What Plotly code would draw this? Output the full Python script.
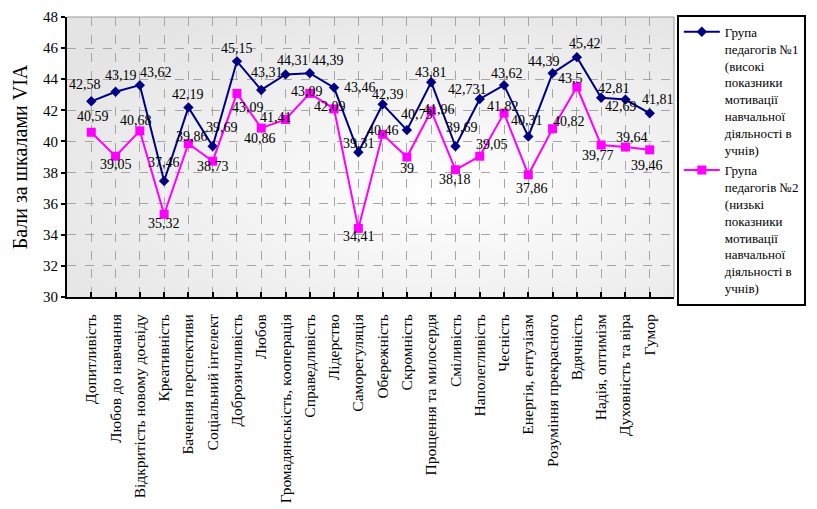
import base64
import plotly.graph_objects as go

# VIA character strengths (categories along the x axis)
categories = [
    "Допитливість", "Любов до навчання", "Відкритість новому досвіду", "Креативність",
    "Бачення перспективи", "Соціальний інтелект", "Доброзичливість", "Любов",
    "Громадянськість, кооперація", "Справедливість", "Лідерство", "Саморегуляція",
    "Обережність", "Скромність", "Прощення та милосердя", "Сміливість",
    "Наполегливість", "Чесність", "Енергія, ентузіазм", "Розуміння прекрасного",
    "Вдячність", "Надія, оптимізм", "Духовність та віра", "Гумор",
]

# Group 1: high student motivation
group1 = [42.58, 43.19, 43.62, 37.46, 42.19, 39.69, 45.15, 43.31, 44.31, 44.39, 43.46, 39.31,
          42.39, 40.73, 43.81, 39.69, 42.731, 43.62, 40.31, 44.39, 45.42, 42.81, 42.69, 41.81]
# Group 2: low student motivation
group2 = [40.59, 39.05, 40.68, 35.32, 39.86, 38.73, 43.09, 40.86, 41.41, 43.09, 42.09, 34.41,
          40.46, 39, 41.96, 38.18, 39.05, 41.82, 37.86, 40.82, 43.5, 39.77, 39.64, 39.46]

y_ticks = [30, 32, 34, 36, 38, 40, 42, 44, 46, 48]

name1 = "Група<br>педагогів №1<br>(високі<br>показники<br>мотивації<br>навчальної<br>діяльності в<br>учнів)"
name2 = "Група<br>педагогів №2<br>(низькі<br>показники<br>мотивації<br>навчальної<br>діяльності в<br>учнів)"

# value-label offsets from each marker, in pixels (dx right, dy down)
shift1 = [(-6, -17), (5, -16), (16, -13), (0, -18), (0, -13), (9, -19), (0, -13), (6, -17),
          (7, -14), (18, -13), (26, 0), (1, -9), (5, -10), (10, -16), (0, -10), (7, -19),
          (-12, -9), (3, -12), (-1, -16), (-9, -12), (8, -14), (13, -9), (-4, 7), (8, -14)]
shift2 = [(2, -16), (0, 8), (-4, -10), (0, 9), (4, -7), (0, 5), (11, 14), (-1, 10),
          (-10, -2), (-3, -2), (-4, -2), (1, 8), (0, -4), (0, 11), (8, -1), (0, 10),
          (12, -12), (-1, -7), (4, 14), (16, -7), (-6, -9), (-3, 10), (7, -10), (-3, 16)]


def fmt(v):
    return f"{v:g}".replace(".", ",")


FONT = "Liberation Serif"

fig = go.Figure()
fig.add_trace(go.Scatter(
    x=categories, y=group1, name=name1, mode="lines+markers",
    line=dict(color="#000080", width=2),
    marker=dict(symbol="diamond", size=8, color="#000080"),
))
fig.add_trace(go.Scatter(
    x=categories, y=group2, name=name2, mode="lines+markers",
    line=dict(color="#ff00ff", width=2),
    marker=dict(symbol="square", size=9, color="#ff00ff"),
))

# value labels next to the markers
annotations = []
for values, shifts in ((group1, shift1), (group2, shift2)):
    for cat, v, (dx, dy) in zip(categories, values, shifts):
        annotations.append(dict(
            x=cat, y=v, xref="x", yref="y", text=fmt(v), showarrow=False,
            xshift=dx, yshift=-dy, xanchor="center", yanchor="middle",
            font=dict(family=FONT, size=14, color="black"),
        ))

# soft radial shading behind the plot area
svg = (
    '<svg xmlns="http://www.w3.org/2000/svg" width="600" height="280" preserveAspectRatio="none">'
    '<defs><radialGradient id="g" cx="0.62" cy="0.62" r="0.75">'
    '<stop offset="0" stop-color="#ffffff"/><stop offset="1" stop-color="#e4e4e4"/>'
    '</radialGradient></defs><rect width="600" height="280" fill="url(#g)"/></svg>'
)
src = "data:image/svg+xml;base64," + base64.b64encode(svg.encode()).decode()

fig.update_layout(
    width=817, height=509,
    margin=dict(l=67, r=142, t=17, b=212),
    paper_bgcolor="white", plot_bgcolor="rgba(0,0,0,0)",
    font=dict(family=FONT, color="black", size=15),
    showlegend=True,
    legend=dict(
        x=1.003, y=1.008, xanchor="left", yanchor="top",
        bordercolor="black", borderwidth=2, bgcolor="white",
        font=dict(family=FONT, size=13, color="black"),
        valign="top", tracegroupgap=0, itemwidth=36, maxheight=320,
    ),
    annotations=annotations,
    images=[dict(source=src, xref="paper", yref="paper", x=0, y=1, sizex=1, sizey=1,
                 sizing="stretch", layer="below", xanchor="left", yanchor="top")],
    shapes=[
        dict(type="line", xref="paper", yref="paper", x0=0, x1=1, y0=1, y1=1,
             line=dict(color="#9a9a9a", width=1)),
        dict(type="line", xref="paper", yref="paper", x0=1, x1=1, y0=0, y1=1,
             line=dict(color="#9a9a9a", width=1)),
    ],
)

fig.update_xaxes(
    type="category", range=[-1, 24], tickangle=-90, automargin=False,
    showline=True, linecolor="black", linewidth=2,
    ticks="inside", ticklen=5, tickcolor="black", tickwidth=2,
    showgrid=True, gridcolor="#a6a6a6", griddash="dash", gridwidth=1,
    tickfont=dict(family=FONT, size=15.5, color="black"), ticklabelstandoff=9,
)
fig.update_yaxes(
    range=[30, 48], tickvals=y_ticks, ticktext=[str(t) for t in y_ticks],
    showline=True, linecolor="black", linewidth=2, automargin=False,
    ticks="outside", ticklen=4, tickcolor="black", tickwidth=2,
    showgrid=True, gridcolor="#a6a6a6", griddash="dash", gridwidth=1, zeroline=False,
    tickfont=dict(family=FONT, size=15, color="black"),
    title=dict(text="Бали за шкалами VIA", font=dict(family=FONT, size=20, color="black"), standoff=10),
)

fig.write_html("out.html")
